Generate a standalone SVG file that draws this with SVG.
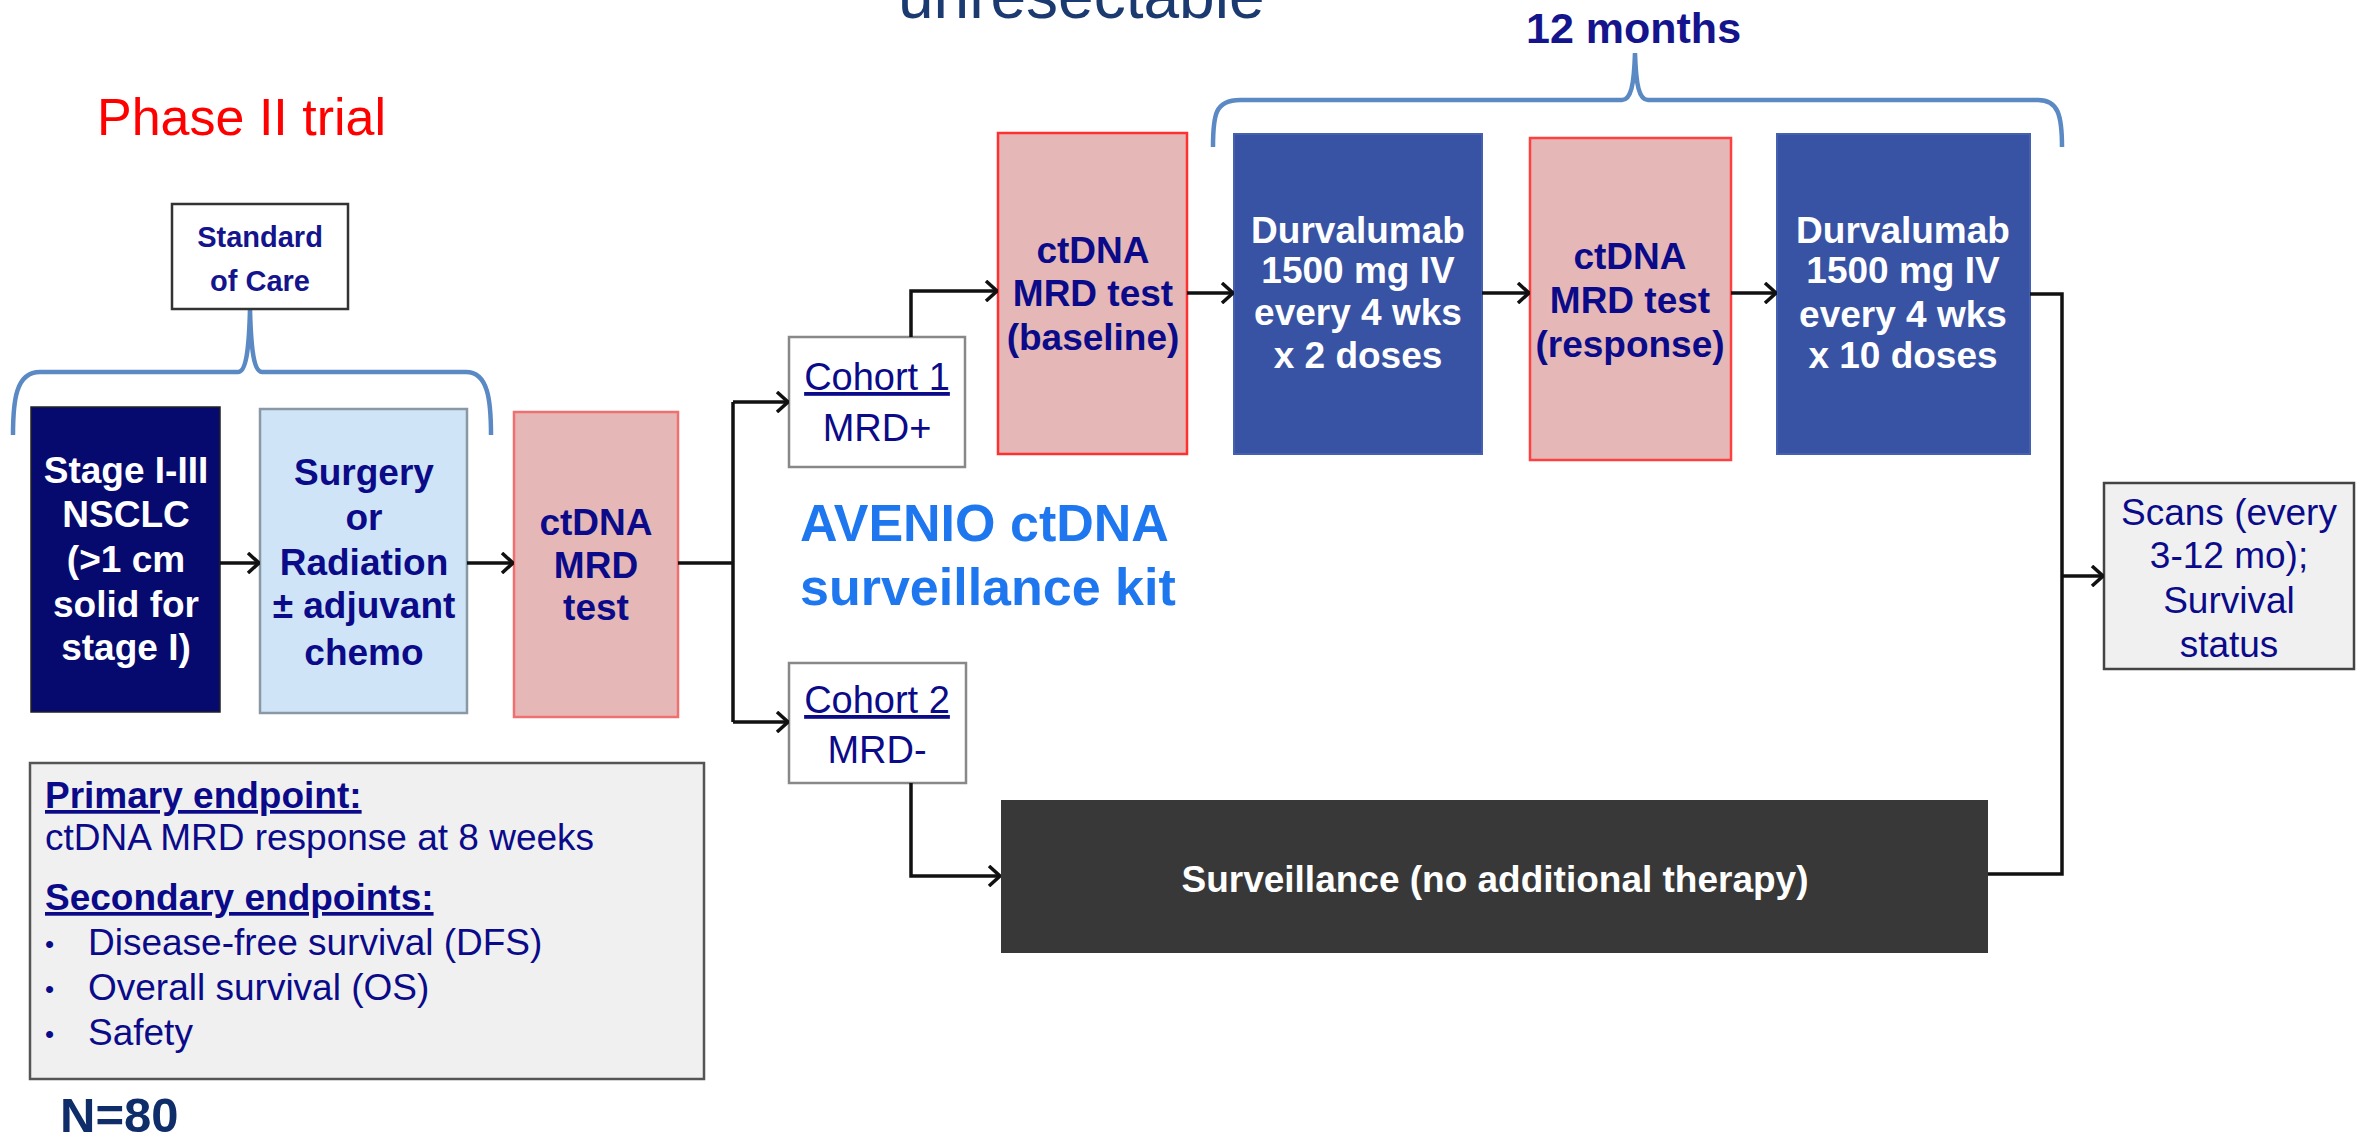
<svg xmlns="http://www.w3.org/2000/svg" width="2363" height="1140" viewBox="0 0 2363 1140">
<defs>
<style>
text{font-family:"Liberation Sans",Arial,sans-serif}
.b{font-weight:bold}
.bx{font-size:37px;text-anchor:middle}
.navy{fill:#0b0b8a}
.wh{fill:#ffffff}
.brace{fill:none;stroke:#5a89c4;stroke-width:4.5}
.conn{fill:none;stroke:#111;stroke-width:3.5}
.ul{text-decoration:underline}
.bul{font-size:26px}
</style>
<marker id="ah" viewBox="0 0 14 22" refX="13" refY="11" markerWidth="14" markerHeight="22" markerUnits="userSpaceOnUse" orient="auto">
<path d="M2,1 L13,11 L2,21" fill="none" stroke="#111" stroke-width="3.5"/>
</marker>
</defs>
<rect width="2363" height="1140" fill="#fff"/>

<text x="898" y="18" font-size="64" fill="#1b3a70">unresectable</text>
<text x="97" y="135" font-size="52" fill="#ff0000">Phase II trial</text>
<text x="1526" y="43" font-size="43" class="b" fill="#14148c">12 months</text>

<path class="brace" d="M13,435 C13,400 16,372 40,372 L238,372 C246,372 249,350 250,309 C251,350 254,372 262,372 L466,372 C488,372 491,400 491,435"/>
<path class="brace" d="M1213,147 C1213,115 1215,100 1240,100 L1622,100 C1631,100 1634,85 1635,53 C1636,85 1639,100 1648,100 L2038,100 C2058,100 2062,115 2062,147"/>

<g id="standard">
<rect x="172" y="204" width="176" height="105" fill="#fff" stroke="#333" stroke-width="2.5"/>
<text x="260" y="247" font-size="29" class="b" text-anchor="middle" fill="#14148c">Standard</text>
<text x="260" y="291" font-size="29" class="b" text-anchor="middle" fill="#14148c">of Care</text>
</g>

<g id="stage">
<rect x="31" y="407" width="189" height="305" fill="#060a6e" stroke="#222" stroke-width="1.5"/>
<text class="bx b wh" x="126" y="483">Stage I-III</text>
<text class="bx b wh" x="126" y="527">NSCLC</text>
<text class="bx b wh" x="126" y="572">(&gt;1 cm</text>
<text class="bx b wh" x="126" y="617">solid for</text>
<text class="bx b wh" x="126" y="660">stage I)</text>
</g>

<g id="surgery">
<rect x="260" y="409" width="207" height="304" fill="#cfe4f6" stroke="#8a98a6" stroke-width="2.5"/>
<text class="bx b navy" x="364" y="485">Surgery</text>
<text class="bx b navy" x="364" y="530">or</text>
<text class="bx b navy" x="364" y="575">Radiation</text>
<text class="bx b navy" x="364" y="618">± adjuvant</text>
<text class="bx b navy" x="364" y="665">chemo</text>
</g>

<g id="mrd">
<rect x="514" y="412" width="164" height="305" fill="#e5b8b7" stroke="#f07070" stroke-width="2.5"/>
<text class="bx b navy" x="596" y="535">ctDNA</text>
<text class="bx b navy" x="596" y="578">MRD</text>
<text class="bx b navy" x="596" y="620">test</text>
</g>

<g id="cohort1">
<rect x="789" y="337" width="176" height="130" fill="#fff" stroke="#888" stroke-width="2.5"/>
<text class="navy ul" x="877" y="390" font-size="38" text-anchor="middle">Cohort 1</text>
<text class="navy" x="877" y="441" font-size="38" text-anchor="middle">MRD+</text>
</g>

<g id="cohort2">
<rect x="789" y="663" width="177" height="120" fill="#fff" stroke="#888" stroke-width="2.5"/>
<text class="navy ul" x="877" y="713" font-size="38" text-anchor="middle">Cohort 2</text>
<text class="navy" x="877" y="763" font-size="38" text-anchor="middle">MRD-</text>
</g>

<g id="avenio">
<text x="800" y="541" font-size="52" class="b" fill="#1f77f0">AVENIO ctDNA</text>
<text x="800" y="605" font-size="52" class="b" fill="#1f77f0">surveillance kit</text>
</g>

<g id="baseline">
<rect x="998" y="133" width="189" height="321" fill="#e5b8b7" stroke="#ff3030" stroke-width="2.5"/>
<text class="bx b navy" x="1093" y="263">ctDNA</text>
<text class="bx b navy" x="1093" y="306">MRD test</text>
<text class="bx b navy" x="1093" y="350">(baseline)</text>
</g>

<g id="durv1">
<rect x="1234" y="134" width="248" height="320" fill="#3953a4" stroke="#4560b0" stroke-width="2"/>
<text class="bx b wh" x="1358" y="243">Durvalumab</text>
<text class="bx b wh" x="1358" y="283">1500 mg IV</text>
<text class="bx b wh" x="1358" y="325">every 4 wks</text>
<text class="bx b wh" x="1358" y="368">x 2 doses</text>
</g>

<g id="response">
<rect x="1530" y="138" width="201" height="322" fill="#e5b8b7" stroke="#ff4040" stroke-width="2.5"/>
<text class="bx b navy" x="1630" y="269">ctDNA</text>
<text class="bx b navy" x="1630" y="313">MRD test</text>
<text class="bx b navy" x="1630" y="357">(response)</text>
</g>

<g id="durv2">
<rect x="1777" y="134" width="253" height="320" fill="#3953a4" stroke="#4560b0" stroke-width="2"/>
<text class="bx b wh" x="1903" y="243">Durvalumab</text>
<text class="bx b wh" x="1903" y="283">1500 mg IV</text>
<text class="bx b wh" x="1903" y="327">every 4 wks</text>
<text class="bx b wh" x="1903" y="368">x 10 doses</text>
</g>

<g id="surveillance">
<rect x="1001" y="800" width="987" height="153" fill="#383838"/>
<text class="bx b wh" x="1495" y="892">Surveillance (no additional therapy)</text>
</g>

<g id="scans">
<rect x="2104" y="483" width="250" height="186" fill="#f0f0f0" stroke="#444" stroke-width="2.5"/>
<text class="bx navy" x="2229" y="525">Scans (every</text>
<text class="bx navy" x="2229" y="568">3-12 mo);</text>
<text class="bx navy" x="2229" y="613">Survival</text>
<text class="bx navy" x="2229" y="657">status</text>
</g>

<g id="endpoints">
<rect x="30" y="763" width="674" height="316" fill="#f0f0f0" stroke="#555" stroke-width="2.5"/>
<text x="45" y="808" font-size="37" class="b navy ul">Primary endpoint:</text>
<text x="45" y="850" font-size="37" class="navy">ctDNA MRD response at 8 weeks</text>
<text x="45" y="910" font-size="37" class="b navy ul">Secondary endpoints:</text>
<text x="45" y="953" class="navy bul">•</text>
<text x="88" y="955" font-size="37" class="navy">Disease-free survival (DFS)</text>
<text x="45" y="998" class="navy bul">•</text>
<text x="88" y="1000" font-size="37" class="navy">Overall survival (OS)</text>
<text x="45" y="1043" class="navy bul">•</text>
<text x="88" y="1045" font-size="37" class="navy">Safety</text>
</g>

<text x="60" y="1132" font-size="49" class="b" fill="#0f2d69">N=80</text>

<g id="connectors">
<path class="conn" d="M220,563 H259" marker-end="url(#ah)"/>
<path class="conn" d="M467,563 H513" marker-end="url(#ah)"/>
<path class="conn" d="M678,563 H733"/>
<path class="conn" d="M733,402 V722"/>
<path class="conn" d="M733,402 H788" marker-end="url(#ah)"/>
<path class="conn" d="M733,722 H788" marker-end="url(#ah)"/>
<path class="conn" d="M911,337 V291 H997" marker-end="url(#ah)"/>
<path class="conn" d="M1187,293 H1233" marker-end="url(#ah)"/>
<path class="conn" d="M1482,293 H1529" marker-end="url(#ah)"/>
<path class="conn" d="M1731,293 H1776" marker-end="url(#ah)"/>
<path class="conn" d="M2030,294 H2062 V874 H1988"/>
<path class="conn" d="M2062,576 H2103" marker-end="url(#ah)"/>
<path class="conn" d="M911,783 V876 H1000" marker-end="url(#ah)"/>
</g>
</svg>
